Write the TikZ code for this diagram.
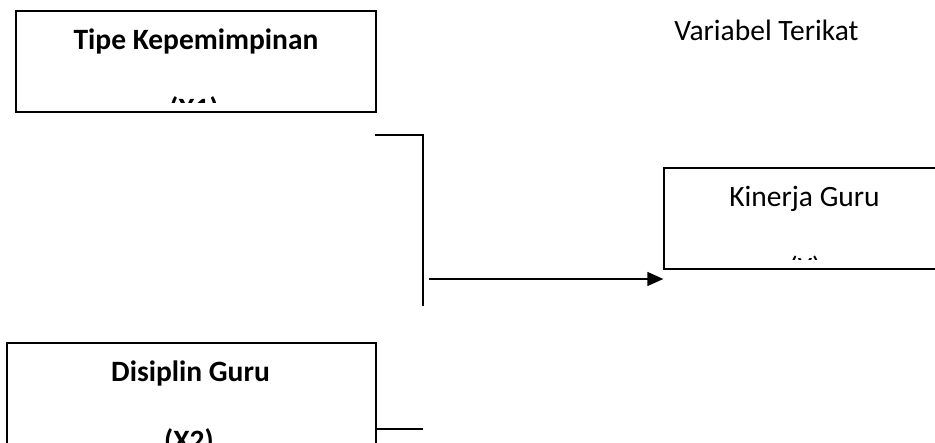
\documentclass[tikz,border=0pt]{standalone}
\usepackage{fontspec}
\setmainfont{Carlito}
\usetikzlibrary{arrows.meta}
\tikzset{
  varbox/.style={draw=black, line width=1.3pt, inner sep=0pt},
  lbl/.style={anchor=base, inner sep=0pt, font=\fontsize{29.5}{35}\selectfont},
  blbl/.style={lbl, font=\fontsize{29.5}{35}\selectfont\bfseries},
  conn/.style={line width=1.3pt},
}
\begin{document}
\begin{tikzpicture}[x=1pt,y=-1pt]
\useasboundingbox (0,0) rectangle (935,443);
% box X1
\begin{scope}
\clip (16,11) rectangle (376,103);
\node[blbl] (t1) at (196,50) {Tipe Kepemimpinan};
\node[blbl] (t1b) at (194,119) {(X1)};
\end{scope}
\node[varbox, minimum width=360pt, minimum height=101pt] (x1) at (196,61.5) {};
% box X2
\begin{scope}
\clip (7,343) rectangle (376,443);
\node[blbl] (t2) at (190.5,382) {Disiplin Guru};
\node[blbl] (t2b) at (189,451) {(X2)};
\end{scope}
\node[varbox, minimum width=369pt, minimum height=120pt] (x2) at (191.5,403) {};
% box Y
\begin{scope}
\clip (664,168) rectangle (940,260);
\node[lbl] (t3) at (804.5,207) {Kinerja Guru};
\node[lbl] (t3b) at (805,278) {(Y)};
\end{scope}
\node[varbox, minimum width=276pt, minimum height=101pt] (y) at (802,218.5) {};
% label
\node[lbl] (vt) at (766.5,41) {Variabel Terikat};
% connectors
\coordinate (a1) at (375,135);
\coordinate (a2) at (423,135);
\coordinate (a3) at (423,306);
\coordinate (b1) at (376,429);
\coordinate (b2) at (423,429);
\coordinate (c1) at (429,279);
\draw[conn] (a1) -- (a2) -- (a3);
\draw[conn] (b1) -- (b2);
\draw[conn, -{Triangle[length=16pt,width=14pt]}] (c1) -- (c1 -| y.west);
\end{tikzpicture}
\end{document}
